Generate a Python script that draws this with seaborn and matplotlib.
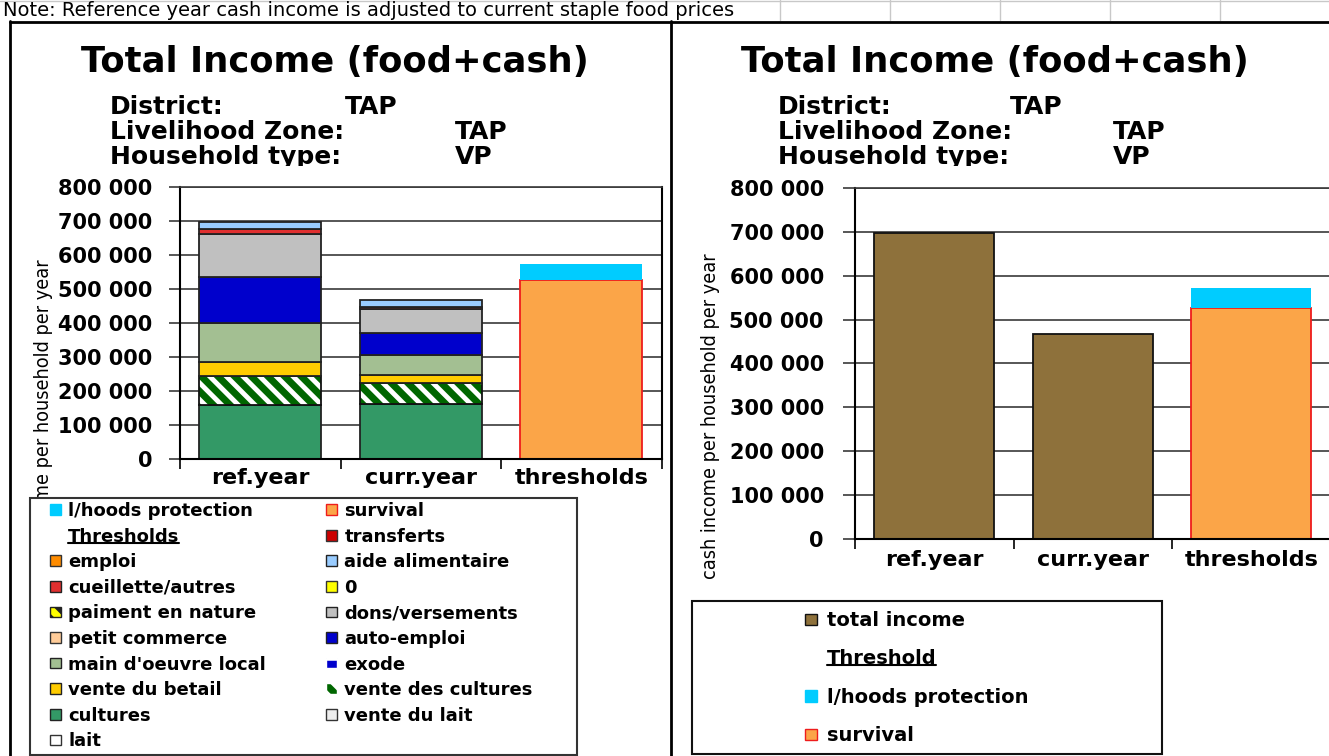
import numpy as np
import matplotlib.pyplot as plt
import seaborn as sns
from matplotlib import font_manager
from matplotlib.patches import Patch, Rectangle
from matplotlib.lines import Line2D
from matplotlib.ticker import FuncFormatter
from matplotlib.transforms import Bbox, TransformedBbox

# ---- data ----
categories = ["ref.year", "curr.year", "thresholds"]

# income sources, stacked bottom -> top
cultures = [160000, 161000, 0]
vente_des_cultures = [84000, 62000, 0]
vente_du_betail = [41000, 23000, 0]
main_doeuvre_local = [116000, 60000, 0]
auto_emploi = [135000, 64000, 0]
dons_versements = [124000, 72000, 0]
cueillette_autres = [17000, 5000, 0]
aide_alimentaire = [20000, 20000, 0]

# thresholds
survival = [0, 0, 526000]
lhoods_protection = [0, 0, 46000]

# right chart
total_income = [696000, 467000, 0]

y_ticks = [0, 100000, 200000, 300000, 400000, 500000, 600000, 700000, 800000]

legend_left_col1 = ["l/hoods protection", "Thresholds", "emploi", "cueillette/autres",
                    "paiment en nature", "petit commerce", "main d'oeuvre local",
                    "vente du betail", "cultures", "lait"]
legend_left_col2 = ["survival", "transferts", "aide alimentaire", "0", "dons/versements",
                    "auto-emploi", "exode", "vente des cultures", "vente du lait"]
legend_right = ["total income", "Threshold", "l/hoods protection", "survival"]

note = "Note: Reference year cash income is adjusted to current staple food prices"
title = "Total Income (food+cash)"
header_keys = ["District:", "Livelihood Zone:", "Household type:"]
header_vals = ["TAP", "TAP", "VP"]
ylabel = "cash income per household per year"

styles = {
    "l/hoods protection": dict(fc="#00ccff", ec="none"),
    "survival": dict(fc="#fba548", ec="#ee1c1c"),
    "emploi": dict(fc="#ff8c00", ec="#333333"),
    "transferts": dict(fc="#cc0000", ec="#333333"),
    "cueillette/autres": dict(fc="#e03030", ec="#222222"),
    "aide alimentaire": dict(fc="#99ccff", ec="#222222"),
    "paiment en nature": dict(fc="#ffff00", ec="#222222", hatch="\\\\"),
    "0": dict(fc="#ffff00", ec="#333333"),
    "petit commerce": dict(fc="#ffcc99", ec="#333333"),
    "dons/versements": dict(fc="#c0c0c0", ec="#222222"),
    "main d'oeuvre local": dict(fc="#a3bf92", ec="#222222"),
    "auto-emploi": dict(fc="#0000cc", ec="#222222"),
    "vente du betail": dict(fc="#ffcc00", ec="#222222"),
    "exode": dict(fc="#0000cc", ec="white", hatch="-"),
    "cultures": dict(fc="#339966", ec="#222222"),
    "vente des cultures": dict(fc="#006600", ec="white", hatch="\\\\"),
    "lait": dict(fc="white", ec="#333333"),
    "vente du lait": dict(fc="#eeeeee", ec="#333333"),
    "total income": dict(fc="#8e713b", ec="#111111"),
}

W, H = 1329, 756
def fx(x):
    return x / W
def fy(y):
    return 1 - y / H

sns.set_theme(style="ticks")
plt.rcParams["font.family"] = ["DejaVu Sans"]
plt.rcParams["font.weight"] = "bold"
plt.rcParams["hatch.linewidth"] = 3.5
for key in ["text.color", "axes.labelcolor", "xtick.color", "ytick.color"]:
    plt.rcParams[key] = "black"

# narrow font for the axis titles if one is installed
narrow = [f for f in font_manager.fontManager.ttflist
          if f.stretch in ("condensed", "semi-condensed", "extra-condensed")
          and f.weight in (400, "normal", "regular") and f.style == "normal"]
if narrow:
    ylab_font = font_manager.FontProperties(fname=narrow[0].fname, size=14.2)
else:
    ylab_font = font_manager.FontProperties(family="Liberation Sans", size=14, weight="normal")

fig = plt.figure(figsize=(13.29, 7.56), dpi=100)
fig.patch.set_facecolor("white")

ax1 = fig.add_axes([fx(180), fy(459.3), fx(661.7) - fx(180), fy(186.7) - fy(459.3)])
ax2 = fig.add_axes([fx(855), fy(539.3), fx(1330.5) - fx(855), fy(187.7) - fy(539.3)])

BAR_W = 0.76


def draw_layer(ax, values, bottom, name):
    vals = np.asarray(values, dtype=float)
    m = vals > 0
    st = styles[name]
    x = np.array(categories)[m]
    if name == "vente des cultures":
        sns.barplot(x=x, y=vals[m], order=categories, bottom=bottom[m], ax=ax,
                    color=st["fc"], saturation=1, width=BAR_W, edgecolor="white",
                    hatch=st["hatch"], linewidth=0, errorbar=None)
        sns.barplot(x=x, y=vals[m], order=categories, bottom=bottom[m], ax=ax,
                    color="#111111", fill=False, width=BAR_W, linewidth=1.3, errorbar=None)
    else:
        lw = 0 if st["ec"] == "none" else 1.3
        sns.barplot(x=x, y=vals[m], order=categories, bottom=bottom[m], ax=ax,
                    color=st["fc"], saturation=1, width=BAR_W, edgecolor=st["ec"],
                    linewidth=lw, errorbar=None)
    return bottom + vals


left_layers = [(cultures, "cultures"), (vente_des_cultures, "vente des cultures"),
               (vente_du_betail, "vente du betail"), (main_doeuvre_local, "main d'oeuvre local"),
               (auto_emploi, "auto-emploi"), (dons_versements, "dons/versements"),
               (cueillette_autres, "cueillette/autres"), (aide_alimentaire, "aide alimentaire"),
               (survival, "survival"), (lhoods_protection, "l/hoods protection")]
right_layers = [(total_income, "total income"), (survival, "survival"),
                (lhoods_protection, "l/hoods protection")]

bottom = np.zeros(len(categories))
for vals, name in left_layers:
    bottom = draw_layer(ax1, vals, bottom, name)

bottom = np.zeros(len(categories))
for vals, name in right_layers:
    bottom = draw_layer(ax2, vals, bottom, name)


def setup(ax, ypad, xpad, ticklen):
    ax.set_xlim(-0.5, 2.5)
    ax.set_ylim(0, 800000)
    ax.set_yticks(y_ticks)
    ax.yaxis.set_major_formatter(FuncFormatter(lambda v, p: f"{v:,.0f}".replace(",", " ")))
    ax.grid(axis="y", color="#3a3a3a", linewidth=1.2)
    ax.set_axisbelow(True)
    ax.set_xticks(range(len(categories)))
    ax.set_xticklabels(categories)
    ax.set_xticks([-0.5, 0.5, 1.5, 2.5], minor=True)
    ax.tick_params(axis="x", which="major", length=0, pad=xpad, labelsize=16, colors="black")
    ax.tick_params(axis="x", which="minor", length=7, width=1.2, direction="out",
                   color="black", bottom=True)
    ax.tick_params(axis="y", which="major", length=ticklen, width=1.2, color="#3a3a3a",
                   pad=ypad, labelsize=15, labelcolor="black", left=True)
    ax.set_xlabel("")
    ax.set_ylabel("")
    for side in ["left", "bottom", "right"]:
        ax.spines[side].set_color("black")
        ax.spines[side].set_linewidth(1.5)
    ax.spines["top"].set_color("#3a3a3a")
    ax.spines["top"].set_linewidth(1.2)


setup(ax1, 12, 6, 8)
setup(ax2, 13.5, 8, 9)
ax2.spines["right"].set_visible(False)

# ---- spreadsheet frame / note row ----
fig.text(fx(3), fy(11), note, fontsize=14, fontweight="normal", ha="left", va="center")
for x in [780, 890, 1000, 1110, 1220]:
    fig.add_artist(Line2D([fx(x), fx(x)], [fy(0), fy(20)], color="#c8c8c8", lw=1))
fig.add_artist(Line2D([fx(0), fx(1329)], [fy(0.5), fy(0.5)], color="#c8c8c8", lw=1))
fig.add_artist(Line2D([fx(10), fx(1329)], [fy(21.5), fy(21.5)], color="black", lw=2))
fig.add_artist(Line2D([fx(10), fx(10)], [fy(21), fy(756)], color="black", lw=2))
fig.add_artist(Line2D([fx(670.5), fx(670.5)], [fy(21), fy(756)], color="black", lw=2))

# ---- titles and headers ----
clip = TransformedBbox(Bbox([[0, fy(166)], [1, 1]]), fig.transFigure)
for cx, kx, v1x, v2x in [(335, 110, 345, 455), (995, 778, 1010, 1113)]:
    fig.text(fx(cx), fy(72), title, fontsize=25.5, ha="center", va="baseline")
    for i, (k, v) in enumerate(zip(header_keys, header_vals)):
        base = 114 + 25 * i
        vx = v1x if i == 0 else v2x
        for tx, s in [(kx, k), (vx, v)]:
            t = fig.text(fx(tx), fy(base), s, fontsize=18, ha="left", va="baseline")
            t.set_clip_box(clip)
            t.set_clip_on(True)

# ---- y labels (not bold) ----
for lx, ly in [(44, 422), (711, 416)]:
    fig.text(fx(lx), fy(ly), ylabel, rotation=90, ha="center", va="center",
             fontproperties=ylab_font, zorder=1)

# ---- legends ----
def handle(name):
    if name in ("Thresholds", "Threshold"):
        return Patch(facecolor="none", edgecolor="none")
    st = styles[name]
    return Patch(facecolor=st["fc"], edgecolor=st["ec"] if st["ec"] != "none" else st["fc"],
                 hatch=st.get("hatch"), linewidth=1)


fig.add_artist(Rectangle((fx(29.5), fy(755)), fx(577) - fx(29.5), fy(498.3) - fy(755),
                         transform=fig.transFigure, facecolor="white", edgecolor="#333333",
                         lw=1.5, zorder=4))
fig.add_artist(Rectangle((fx(691.7), fy(754)), fx(1161.7) - fx(691.7), fy(600.7) - fy(754),
                         transform=fig.transFigure, facecolor="white", edgecolor="#111111",
                         lw=1.5, zorder=4))

left_names = legend_left_col1 + legend_left_col2
leg1 = fig.legend([handle(n) for n in left_names], left_names, ncol=2,
                  loc="upper left", bbox_to_anchor=(fx(50), fy(502)), frameon=False,
                  borderpad=0, borderaxespad=0, fontsize=13, handlelength=0.61,
                  handleheight=0.53, handletextpad=0.39, labelspacing=0.42, columnspacing=3.35)
leg1.set_zorder(5)

leg2 = fig.legend([handle(n) for n in legend_right], legend_right, ncol=1,
                  loc="upper left", bbox_to_anchor=(fx(805), fy(611)), frameon=False,
                  borderpad=0, borderaxespad=0, fontsize=14, handlelength=0.62,
                  handleheight=0.5, handletextpad=0.5, labelspacing=1.0)
leg2.set_zorder(5)

# underline the "Threshold(s)" entries
fig.canvas.draw()
inv = fig.transFigure.inverted()
for leg in (leg1, leg2):
    for t in leg.get_texts():
        if t.get_text() in ("Thresholds", "Threshold"):
            bb = t.get_window_extent()
            (x0, y0), (x1, _) = inv.transform([(bb.x0, bb.y0 + 3), (bb.x1, bb.y0 + 3)])
            fig.add_artist(Line2D([x0, x1], [y0, y0], color="black", lw=1.5, zorder=6))

fig.savefig("out.png", dpi=100)
